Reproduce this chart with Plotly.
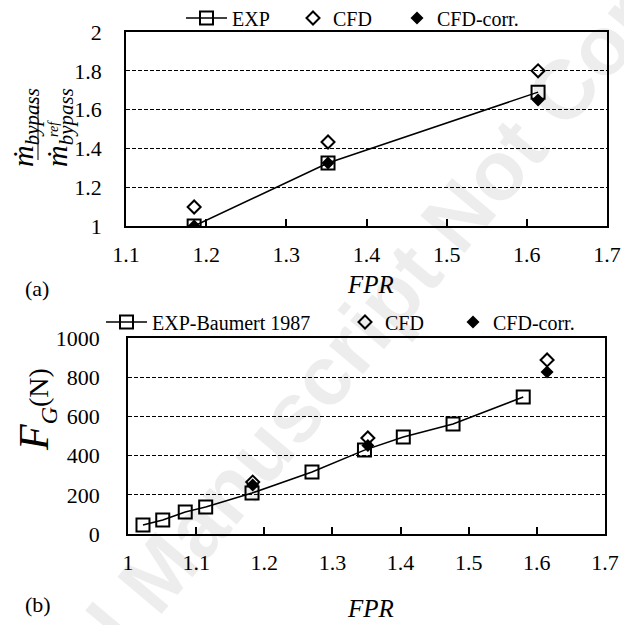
import plotly.graph_objects as go

W, H = 624, 625
def PX(x):
    return x / W
def PY(y):
    return 1 - y / H

# ---------------- data: panel (a) ----------------
fpr_a_exp = [1.185, 1.352, 1.614]
mdot_exp = [1.00, 1.325, 1.69]
fpr_a_cfd = [1.185, 1.352, 1.614]
mdot_cfd = [1.098, 1.433, 1.80]
mdot_cfd_corr = [1.00, 1.325, 1.65]

# ---------------- data: panel (b) ----------------
fpr_b_exp = [1.022, 1.051, 1.084, 1.114, 1.182, 1.270, 1.347, 1.404, 1.477, 1.580]
fg_exp = [46, 71, 112, 138, 209, 316, 428, 495, 561, 699]
fpr_b_cfd = [1.183, 1.352, 1.615]
fg_cfd = [265, 490, 888]
fg_cfd_corr = [250, 452, 827]

SERIF = "Liberation Serif, Times New Roman, Times, DejaVu Serif, serif"
BLACK = "black"

fig = go.Figure()

sq = dict(symbol="square-open", size=13, color=BLACK, line=dict(width=2, color=BLACK))
dopen = dict(symbol="diamond-open", size=10, color=BLACK, line=dict(width=2, color=BLACK))
dfill = dict(symbol="diamond", size=10, color=BLACK, line=dict(width=0, color=BLACK))

# panel (a)
fig.add_trace(go.Scatter(x=fpr_a_exp, y=mdot_exp, mode="lines+markers", name="EXP",
                         line=dict(color=BLACK, width=1.5), marker=sq,
                         xaxis="x", yaxis="y", legend="legend"))
fig.add_trace(go.Scatter(x=fpr_a_cfd, y=mdot_cfd, mode="markers", name="CFD",
                         marker=dopen, xaxis="x", yaxis="y", legend="legend2"))
fig.add_trace(go.Scatter(x=fpr_a_cfd, y=mdot_cfd_corr, mode="markers", name="CFD-corr.",
                         marker=dfill, xaxis="x", yaxis="y", legend="legend3"))

# panel (b)
fig.add_trace(go.Scatter(x=fpr_b_exp, y=fg_exp, mode="lines+markers", name="EXP-Baumert 1987",
                         line=dict(color=BLACK, width=1.5), marker=sq,
                         xaxis="x2", yaxis="y2", legend="legend4"))
fig.add_trace(go.Scatter(x=fpr_b_cfd, y=fg_cfd, mode="markers", name="CFD",
                         marker=dopen, xaxis="x2", yaxis="y2", legend="legend5"))
fig.add_trace(go.Scatter(x=fpr_b_cfd, y=fg_cfd_corr, mode="markers", name="CFD-corr.",
                         marker=dfill, xaxis="x2", yaxis="y2", legend="legend6"))

tickfont = dict(family=SERIF, size=22, color=BLACK)
xcommon = dict(dtick=0.1, ticks="inside", ticklen=7, tickwidth=1.5, tickcolor=BLACK,
               showline=True, linecolor=BLACK, linewidth=1.5, mirror=True,
               showgrid=False, zeroline=False, tickfont=tickfont, ticklabelstandoff=8)
ycommon = dict(showgrid=True, gridcolor=BLACK, griddash="4px,2px", gridwidth=1,
               showline=True, linecolor=BLACK, linewidth=1.5, mirror=True,
               ticks="", zeroline=False, tickfont=tickfont)

fig.update_layout(
    width=W, height=H,
    margin=dict(l=0, r=0, t=0, b=0, autoexpand=False),
    paper_bgcolor="white", plot_bgcolor="white",
    showlegend=True,
    xaxis=dict(domain=[PX(126), PX(607)], anchor="y", range=[1.1, 1.7], tick0=1.1, **xcommon),
    yaxis=dict(domain=[PY(226), PY(32)], anchor="x", range=[1, 2], dtick=0.2,
               ticklabelstandoff=18, **ycommon),
    xaxis2=dict(domain=[PX(128), PX(605)], anchor="y2", range=[1.0, 1.7], tick0=1.0, **xcommon),
    yaxis2=dict(domain=[PY(534), PY(338)], anchor="x2", range=[0, 1000], dtick=200,
                ticklabelstandoff=22, **ycommon),
)

legfont = dict(family=SERIF, size=20, color=BLACK)
def leg(xpx, ypx, itemwidth=30):
    return dict(x=PX(xpx), y=PY(ypx), xanchor="left", yanchor="middle",
                orientation="v", font=legfont, bgcolor="rgba(0,0,0,0)",
                borderwidth=0, itemwidth=itemwidth, tracegroupgap=0, visible=True)

fig.update_layout(
    legend=leg(181, 18, 41),
    legend2=leg(293, 18),
    legend3=leg(397, 18),
    legend4=leg(101, 322, 41),
    legend5=leg(345, 322),
    legend6=leg(453, 322),
)

ann = []
# watermark
ann.append(dict(text="Accepted Manuscript Not Copyedited", x=PX(358), y=PY(335),
                xref="paper", yref="paper", showarrow=False, textangle=-50,
                font=dict(family="Liberation Sans, Arial, sans-serif", size=84,
                          color="rgba(0,0,0,0.07)", weight="bold")))
# panel labels
ann.append(dict(text="(a)", x=PX(23), y=PY(288), xanchor="left", yanchor="middle",
                xref="paper", yref="paper", showarrow=False, font=dict(family=SERIF, size=22, color=BLACK)))
ann.append(dict(text="(b)", x=PX(23), y=PY(604), xanchor="left", yanchor="middle",
                xref="paper", yref="paper", showarrow=False, font=dict(family=SERIF, size=22, color=BLACK)))
# x titles
for ypx in (284, 608):
    ann.append(dict(text="<i>FPR</i>", x=PX(370), y=PY(ypx), xanchor="center", yanchor="middle",
                    xref="paper", yref="paper", showarrow=False,
                    font=dict(family=SERIF, size=25, color=BLACK)))
# y title (a): fraction
ann.append(dict(text="<i>ṁ</i><sub><i>bypass</i></sub>", x=PX(25), y=PY(128),
                xanchor="center", yanchor="middle", xref="paper", yref="paper",
                showarrow=False, textangle=-90, font=dict(family=SERIF, size=30, color=BLACK)))
ann.append(dict(text="<i>ṁ</i><sub><i>bypass</i></sub>", x=PX(59), y=PY(128),
                xanchor="center", yanchor="middle", xref="paper", yref="paper",
                showarrow=False, textangle=-90, font=dict(family=SERIF, size=30, color=BLACK)))
ann.append(dict(text="<i>ref</i>", x=PX(53), y=PY(129),
                xanchor="center", yanchor="middle", xref="paper", yref="paper",
                showarrow=False, textangle=-90, font=dict(family=SERIF, size=14, color=BLACK)))
# y title (b)
ann.append(dict(text="<i>F</i><sub><i><span style='font-size:24px'>G</span></i></sub><span style='font-size:28px'>(N)</span>",
                x=PX(36), y=PY(410), xanchor="center", yanchor="middle",
                xref="paper", yref="paper", showarrow=False, textangle=-90,
                font=dict(family=SERIF, size=42, color=BLACK)))
fig.update_layout(annotations=ann)

fig.add_shape(type="line", xref="paper", yref="paper",
              x0=PX(38), x1=PX(38), y0=PY(98), y1=PY(160),
              line=dict(color=BLACK, width=1))

fig.write_html("out.html")
